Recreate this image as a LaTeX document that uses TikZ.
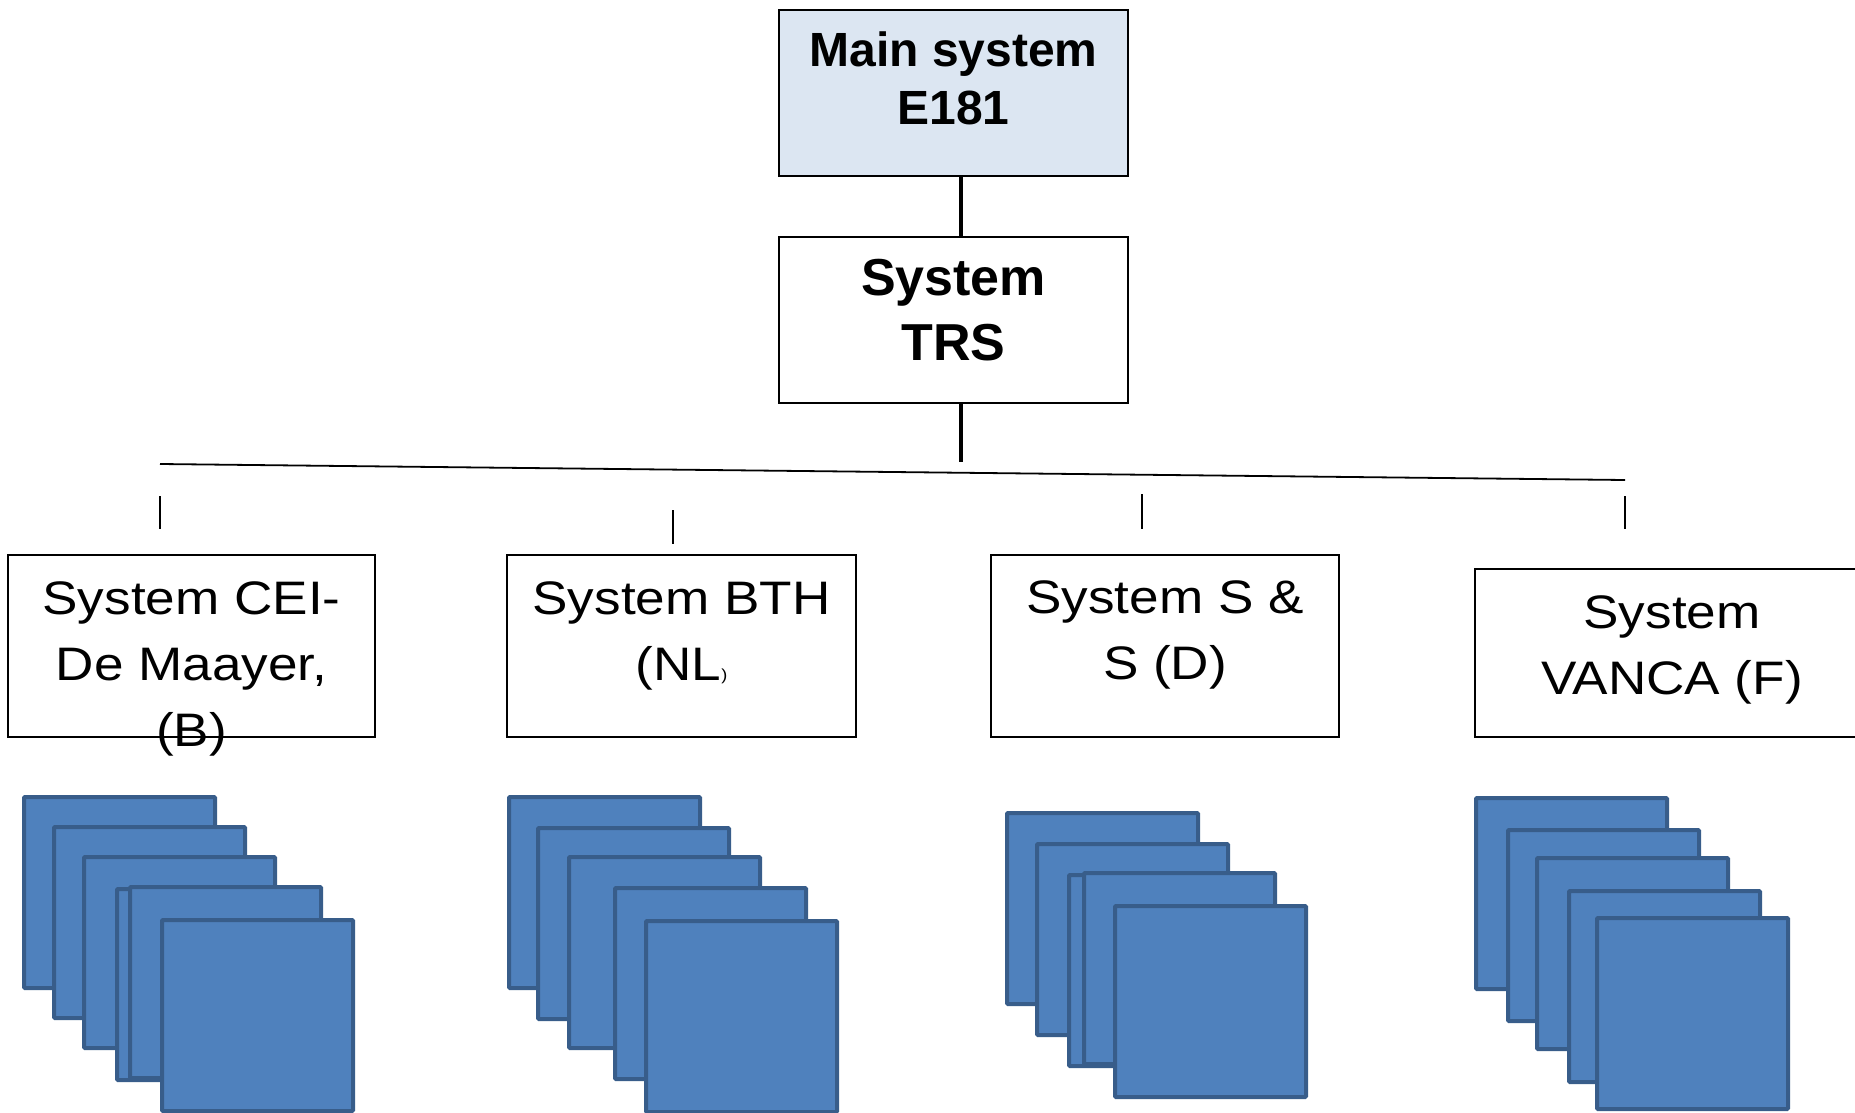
\documentclass[tikz,border=0pt]{standalone}
\usepackage{fontspec}
\setmainfont{Liberation Sans}
\newfontfamily\widefont[FakeStretch=1.13]{Liberation Sans}
\usetikzlibrary{positioning}

\definecolor{topfill}{HTML}{DCE6F2}
\definecolor{pagefill}{HTML}{4F81BD}
\definecolor{pageedge}{HTML}{385D8A}

\tikzset{
    sysbox/.style={draw=black, line width=1.3pt, inner sep=0pt, outer sep=0pt,
        minimum width=349pt, minimum height=166pt},
    boldlbl/.style={anchor=north, align=center, inner sep=0pt,
        font=\bfseries\fontsize{48}{58}\selectfont},
    lbl/.style={anchor=north, align=center, inner sep=0pt,
        font=\widefont\fontsize{47}{66}\selectfont},
    page/.style={fill=pagefill, draw=pageedge, line width=4pt, rounded corners=1pt},
    trunk/.style={line width=4.5pt},
    tick/.style={line width=1.2pt}
}

\begin{document}
\begin{tikzpicture}[x=1pt, y=-1pt]
    \useasboundingbox (0,0) rectangle (1855,1113);
    \clip (0,0) rectangle (1855,1113);

    % Top of the tree
    \node[sysbox, fill=topfill] (main) at (953.5,93) {};
    \node[boldlbl] (mainlbl) at (953.5,32) {Main system\\E181};

    \node[sysbox] (trs) at (953.5,320) {};
    \node[boldlbl, font=\bfseries\fontsize{52}{65}\selectfont] (trslbl) at (953.5,259) {System\\TRS};

    \draw[trunk] ([xshift=7.5pt]main.south) -- ([xshift=7.5pt]trs.north);
    \coordinate (drop) at (961,462);
    \draw[trunk] ([xshift=7.5pt]trs.south) -- (drop);

    % Bus line (slightly slanted)
    \coordinate (busL) at (160,464);
    \coordinate (busR) at (1625,480);
    \draw[line width=1.8pt] (busL) -- (busR);

    % Short ticks above the sub systems
    \coordinate (t1a) at (160,496);  \coordinate (t1b) at (160,529);
    \coordinate (t2a) at (673,510);  \coordinate (t2b) at (673,544);
    \coordinate (t3a) at (1142,494); \coordinate (t3b) at (1142,529);
    \coordinate (t4a) at (1625,496); \coordinate (t4b) at (1625,529);
    \foreach \t in {1,2,3,4} {
        \draw[tick] (t\t a) -- (t\t b);
    }

    % Sub systems
    \node[sysbox, minimum width=367pt, minimum height=182pt] (cei) at (191.5,646) {};
    \node[sysbox, minimum height=182pt] (bth) at (681.5,646) {};
    \node[sysbox, minimum width=348pt, minimum height=182pt] (sns) at (1165,646) {};
    \node[sysbox, minimum width=390pt, minimum height=168pt] (vanca) at (1670,653) {};

    \node[lbl] (ceilbl) at (191.5,581) {System CEI-\\De Maayer,\\(B)};
    \node[lbl] (bthlbl) at (681.5,581) {System BTH\\(NL{\fontsize{16}{16}\selectfont )}};
    \node[lbl] (snslbl) at (1165,580) {System S \&\\S (D)};
    \node[lbl] (vancalbl) at (1672,595) {System\\VANCA (F)};

    % Stacks of pages (outer top-left corners)
    \def\pg{191}
    % CEI
    \foreach \x/\y in {22/795, 52/825, 82/855, 115/887, 128/885, 160/918} {
        \draw[page] (\x+2,\y+2) rectangle ++(\pg,\pg);
    }
    % BTH
    \foreach \x/\y in {507/795, 536/826, 567/855, 613/886, 644/919} {
        \draw[page] (\x+2,\y+2) rectangle ++(\pg,\pg);
    }
    % S & S
    \foreach \x/\y in {1005/811, 1035/842, 1067/873, 1082/871, 1113/904} {
        \draw[page] (\x+2,\y+2) rectangle ++(\pg,\pg);
    }
    % VANCA
    \foreach \x/\y in {1474/796, 1506/828, 1535/856, 1567/889, 1595/916} {
        \draw[page] (\x+2,\y+2) rectangle ++(\pg,\pg);
    }
\end{tikzpicture}
\end{document}
